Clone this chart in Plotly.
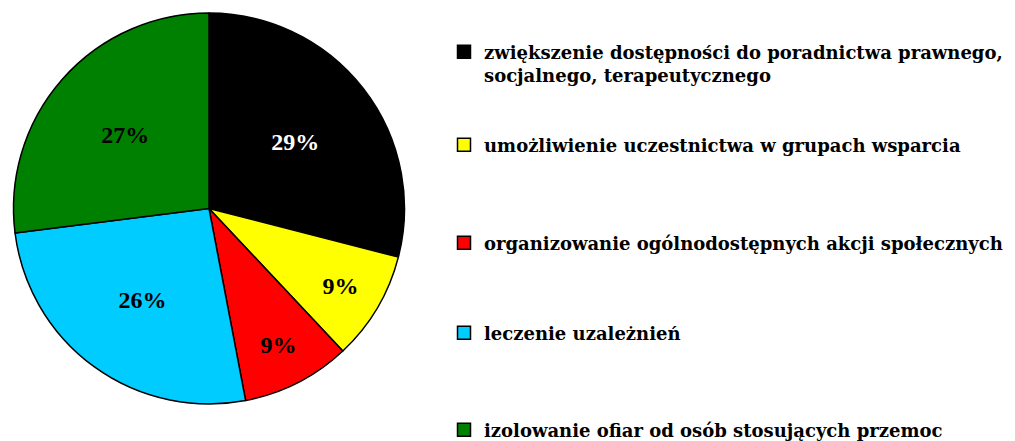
import plotly.graph_objects as go

categories = [
    "zwiększenie dostępności do poradnictwa prawnego,<br>socjalnego, terapeutycznego",
    "umożliwienie uczestnictwa w grupach wsparcia",
    "organizowanie ogólnodostępnych akcji społecznych",
    "leczenie uzależnień",
    "izolowanie ofiar od osób stosujących przemoc",
]
values = [29, 9, 9, 26, 27]
colors = ["#000000", "#FFFF00", "#FF0000", "#00CCFF", "#008000"]
label_colors = ["#FFFFFF", "#000000", "#000000", "#000000", "#000000"]

W, H = 1015, 441
OFF = 8  # default page body margin
label_font = "Liberation Serif, serif"
legend_font = "DejaVu Serif, serif"

fig = go.Figure()
fig.add_trace(go.Pie(
    labels=categories,
    values=values,
    sort=False,
    direction="clockwise",
    rotation=0,
    marker=dict(colors=colors, line=dict(color="#000000", width=1.5)),
    texttemplate="%{percent:.0%}",
    textposition="inside",
    insidetextorientation="horizontal",
    textfont=dict(family=label_font, size=24, color=label_colors, weight="bold"),
    showlegend=False,
    hoverinfo="label+percent",
    domain=dict(x=[(13 - OFF) / W, (405 - OFF) / W],
                y=[1 - (404 - OFF) / H, 1 - (13 - OFF) / H]),
))

# legend entries, one legend each so the spacing can follow the reference
legend_centers = [63.5, 145, 243, 333, 430]  # screen px of each entry's centre
legend_names = ["legend", "legend2", "legend3", "legend4", "legend5"]
for cat, col, lg in zip(categories, colors, legend_names):
    fig.add_trace(go.Scatter(
        x=[None], y=[None], mode="markers", name=cat,
        legend=lg,
        marker=dict(symbol="square", size=13, color=col,
                    line=dict(color="#000000", width=1.5)),
        showlegend=True,
    ))

layout_legends = {}
for lg, cy in zip(legend_names, legend_centers):
    layout_legends[lg] = dict(
        x=(444 - OFF) / W, xanchor="left",
        y=1 - (cy - OFF) / H, yanchor="middle",
        font=dict(family=legend_font, size=18, color="#000000", weight="bold"),
        valign="top",
        bgcolor="rgba(0,0,0,0)",
    )

fig.update_layout(
    width=W, height=H,
    margin=dict(l=0, r=0, t=0, b=0),
    paper_bgcolor="white",
    plot_bgcolor="white",
    xaxis=dict(visible=False),
    yaxis=dict(visible=False),
    font=dict(family=label_font),
    **layout_legends,
)

fig.write_html("out.html")
